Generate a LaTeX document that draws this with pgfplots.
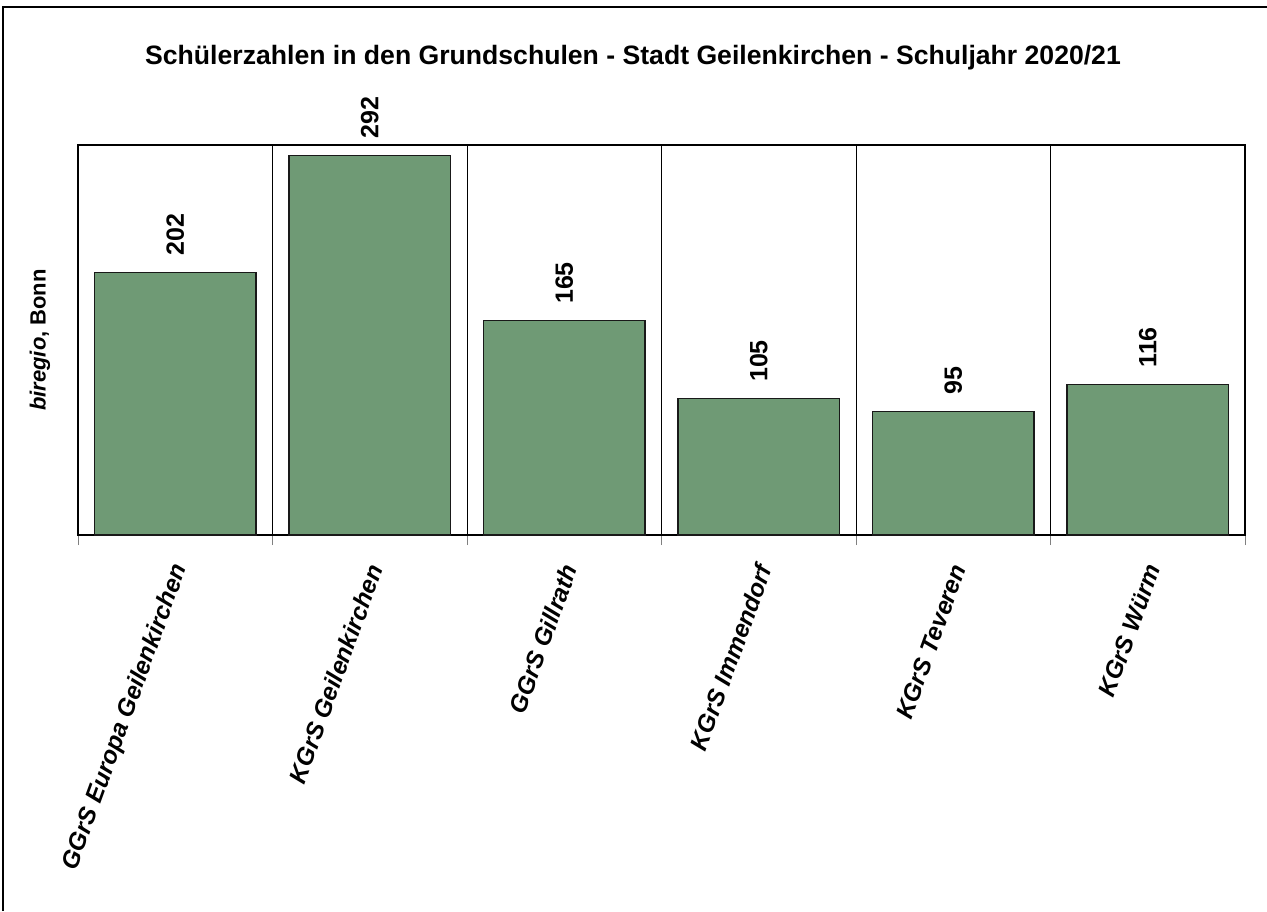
\documentclass[border=0pt]{standalone}
\usepackage{fontspec}
\setmainfont{Liberation Sans}
\usepackage{pgfplots}
\pgfplotsset{compat=1.18}

\definecolor{barGreen}{RGB}{111,154,117}

\begin{document}
\begin{tikzpicture}[font=\fontsize{12}{14}\selectfont]
  % page = 1267x911 px at 0.5pt per px, origin at lower left of the plot box
  \path[use as bounding box] (-39pt,-188pt) rectangle (594.5pt,267.5pt);
  \draw[line width=1pt] (-37.25pt,-188pt) -- (-37.25pt,263.75pt) -- (594.5pt,263.75pt);

  \begin{axis}[
      scale only axis,
      width=583.5pt, height=195pt,
      ybar, bar width=0.83,
      xmin=-0.5, xmax=5.5,
      ymin=0, ymax=300,
      xtick={0,1,2,3,4,5},
      xticklabels={GGrS Europa Geilenkirchen, KGrS Geilenkirchen, GGrS Gillrath,
                   KGrS Immendorf, KGrS Teveren, KGrS Würm},
      minor xtick={-0.5,0.5,1.5,2.5,3.5,4.5,5.5},
      xminorgrids,
      minor grid style={black, line width=0.5pt},
      major tick length=0pt,
      minor tick length=5pt,
      tick align=outside,
      xtick pos=bottom,
      ytick=\empty,
      axis line style={black, line width=0.6pt},
      xticklabel style={xshift=4pt, rotate=70, anchor=east,
                        font=\fontsize{12.2}{14}\selectfont\bfseries\itshape},
      xticklabel shift=12pt,
      /pgf/number format/assume math mode=true,
      nodes near coords,
      nodes near coords style={rotate=90, anchor=west, inner xsep=8pt, inner ysep=0pt,
                               font=\fontsize{12.5}{14}\selectfont\bfseries},
    ]
    \addplot[fill=barGreen, draw=black!90, line width=0.7pt]
      coordinates {(0,202) (1,292) (2,165) (3,105) (4,95) (5,116)};
  \end{axis}

  \node[font=\fontsize{13.3}{15}\selectfont\bfseries] at (277.5pt,238.5pt)
    {Schülerzahlen in den Grundschulen - Stadt Geilenkirchen - Schuljahr 2020/21};
  \node[rotate=90, font=\fontsize{11}{13}\selectfont\bfseries] at (-19pt,97.5pt) {\textit{biregio}, Bonn};
\end{tikzpicture}
\end{document}
